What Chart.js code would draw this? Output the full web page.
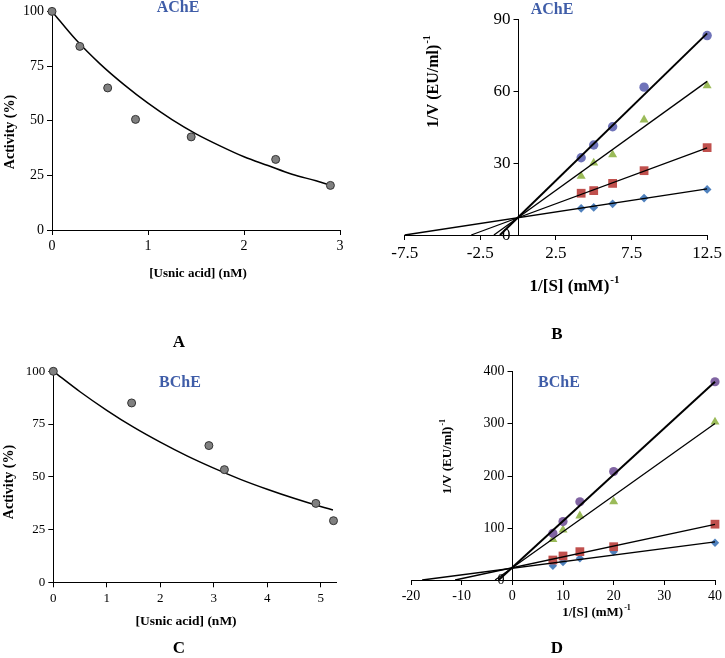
<!DOCTYPE html>
<html>
<head>
<meta charset="utf-8">
<script src="https://cdn.jsdelivr.net/npm/chart.js@4.4.1/dist/chart.umd.min.js"></script>
<style>
  body { margin: 0; background: #fff; width: 725px; height: 658px; position: relative; overflow: hidden; }
  canvas { position: absolute; }
</style>
</head>
<body>
<canvas id="chartA" width="362" height="352" style="left:0;top:0;width:362px;height:352px"></canvas>
<canvas id="chartB" width="363" height="352" style="left:362px;top:0;width:363px;height:352px"></canvas>
<canvas id="chartC" width="362" height="306" style="left:0;top:352px;width:362px;height:306px"></canvas>
<canvas id="chartD" width="363" height="306" style="left:362px;top:352px;width:363px;height:306px"></canvas>
<script>
// ---- panel A : AChE activity vs usnic acid
const concA = [0, 0.29, 0.58, 0.87, 1.45, 2.33, 2.9];
const activityA = [100, 84, 65, 50.6, 42.6, 32.3, 20.4];
const fitConcA = [0, 0.25, 0.5, 0.75, 1, 1.25, 1.5, 1.75, 2, 2.25, 2.5, 2.75, 2.9];
const fitActivityA = [100, 87, 76, 66.5, 58, 50.5, 44, 38.5, 33.5, 29.5, 25.5, 22.5, 20.5];
const xTicksA = [0, 1, 2, 3];
const yTicksA = [0, 25, 50, 75, 100];

// ---- panel B : AChE Lineweaver-Burk
const invS_B = [4.17, 5, 6.25, 8.33, 12.5];
const invV_B0 = [11.1, 11.5, 13.0, 15.4, 19.0];   // diamonds
const invV_B1 = [17.4, 18.5, 21.5, 26.8, 36.4];   // squares
const invV_B2 = [24.5, 30, 33.5, 48, 62.2];       // triangles
const invV_B3 = [32.2, 37.5, 45.1, 61.6, 83.1];   // circles
const lineX_B0 = [-7.5, 12.5], lineY_B0 = [0, 19.2];
const lineX_B1 = [-3.1, 12.5], lineY_B1 = [0, 36.3];
const lineX_B2 = [-1.6, 12.5], lineY_B2 = [0, 64];
const lineX_B3 = [-1.2, 12.5], lineY_B3 = [0, 84];
const xTicksB = [-7.5, -2.5, 2.5, 7.5, 12.5];
const yTicksB = [0, 30, 60, 90];

// ---- panel C : BChE activity vs usnic acid
const concC = [0, 1.465, 2.91, 3.2, 4.91, 5.24];
const activityC = [100, 85, 64.8, 53.4, 37.4, 29.2];
const fitConcC = [0, 0.5, 1, 1.5, 2, 2.5, 3, 3.5, 4, 4.5, 5, 5.23];
const fitActivityC = [100, 90.3, 81.5, 73.5, 66.4, 59.9, 54.1, 48.8, 44.1, 39.8, 35.9, 34.3];
const xTicksC = [0, 1, 2, 3, 4, 5];
const yTicksC = [0, 25, 50, 75, 100];

// ---- panel D : BChE Lineweaver-Burk
const invS_D = [8, 10, 13.33, 20, 40];
const invV_D0 = [27.4, 34.5, 41.5, 54.3, 71.5];
const invV_D1 = [38.3, 46, 54.3, 63.8, 107];
const invV_D2 = [78, 96, 123, 150, 303];
const invV_D3 = [89.5, 112, 150, 208, 380];
const lineX_D0 = [-17.8, 40], lineY_D0 = [0, 73];
const lineX_D1 = [-11.3, 40], lineY_D1 = [0, 106.5];
const lineX_D2 = [-3.4, 40], lineY_D2 = [0, 300];
const lineX_D3 = [-2.7, 40], lineY_D3 = [0, 380];
const xTicksD = [-20, -10, 0, 10, 20, 30, 40];
const yTicksD = [0, 100, 200, 300, 400];

const serif = "'Liberation Serif', 'Times New Roman', serif";
const blue = '#3F5DA8';

function pts(xs, ys) { return xs.map((x, i) => ({ x: x, y: ys[i] })); }

function markers(xs, ys, style, color, r) {
  return { data: pts(xs, ys), pointStyle: style, pointRadius: r, pointHoverRadius: r,
    backgroundColor: color, borderColor: color, borderWidth: 0, showLine: false, clip: false, order: 2 };
}
function greyDots(xs, ys) {
  return { data: pts(xs, ys), pointStyle: 'circle', pointRadius: 4, pointHoverRadius: 4,
    backgroundColor: '#808080', borderColor: '#333', borderWidth: 1, showLine: false, clip: false, order: 0 };
}
function line(xs, ys, w, smooth) {
  return { data: pts(xs, ys), showLine: true, pointRadius: 0, borderColor: '#000', borderWidth: w,
    cubicInterpolationMode: smooth ? 'monotone' : 'default', tension: 0, fill: false, clip: false, order: 1 };
}

function axis(min, max, ticks, size, extra) {
  return Object.assign({
    type: 'linear', min: min, max: max,
    afterBuildTicks: s => { s.ticks = ticks.map(v => ({ value: v })); },
    border: { color: '#000', width: 1 },
    grid: { drawOnChartArea: false, color: '#000', tickLength: 5 },
    ticks: { color: '#000', font: { family: serif, size: size }, padding: 3,
      maxRotation: 0, autoSkip: false, callback: v => String(v) }
  }, extra);
}

// y axis that crosses x = 0: the tick marks and labels go on its left side
function crossingAxis(size) {
  return {
    id: 'crossingAxis',
    afterDraw(chart) {
      const ctx = chart.ctx, sx = chart.scales.x, sy = chart.scales.y;
      const x0 = Math.round(sx.getPixelForValue(0)) + 0.5;
      ctx.save();
      ctx.strokeStyle = '#000';
      ctx.lineWidth = 1;
      ctx.fillStyle = '#000';
      ctx.font = size + 'px ' + serif;
      ctx.textAlign = 'right';
      ctx.textBaseline = 'middle';
      sy.ticks.forEach(t => {
        const y = Math.round(sy.getPixelForValue(t.value)) + 0.5;
        ctx.beginPath();
        ctx.moveTo(x0 - 5, y);
        ctx.lineTo(x0, y);
        ctx.stroke();
        ctx.fillText(String(t.value), x0 - 8, y);
      });
      ctx.restore();
    }
  };
}

// extra labels (titles, axis names, panel letters) drawn on the canvas
function textPlugin(items) {
  return {
    id: 'panelText',
    afterDraw(chart) {
      const ctx = chart.ctx;
      items.forEach(it => {
        const f = s => 'bold ' + s + 'px ' + serif;
        const supSize = Math.round(it.size * 0.62);
        ctx.save();
        ctx.translate(it.x, it.y);
        if (it.rot) ctx.rotate(-Math.PI / 2);
        ctx.fillStyle = it.color || '#000';
        ctx.textBaseline = 'middle';
        ctx.textAlign = 'left';
        ctx.font = f(it.size);
        const w = ctx.measureText(it.t).width;
        let sw = 0;
        if (it.sup) { ctx.font = f(supSize); sw = ctx.measureText(it.sup).width; }
        const x0 = -(w + sw) / 2;
        ctx.font = f(it.size);
        ctx.fillText(it.t, x0, 0);
        if (it.sup) {
          ctx.font = f(supSize);
          ctx.fillText(it.sup, x0 + w + 1, -it.size * 0.38);
        }
        ctx.restore();
      });
    }
  };
}

function makeChart(id, datasets, p) {
  const plugins = [textPlugin(p.texts)];
  if (p.crossSize) plugins.push(crossingAxis(p.crossSize));
  return new Chart(document.getElementById(id), {
    type: 'scatter',
    data: { datasets: datasets },
    options: {
      responsive: false, animation: false, devicePixelRatio: 1,
      layout: { padding: p.padding },
      plugins: { legend: { display: false }, tooltip: { enabled: false } },
      scales: { x: p.x, y: p.y }
    },
    plugins: plugins
  });
}

const hiddenTicks = { display: false };
const noGridTicks = { drawOnChartArea: false, drawTicks: false, color: '#000' };

makeChart('chartA', [
  line(fitConcA, fitActivityA, 1.5, true),
  greyDots(concA, activityA)
], {
  padding: { left: 0, right: 22, top: 11, bottom: 92 },
  x: axis(0, 3, xTicksA, 14, { afterFit: s => { s.height = 30; } }),
  y: axis(0, 100, yTicksA, 14, { afterFit: s => { s.width = 52; } }),
  texts: [
    { t: 'AChE', x: 178, y: 8, size: 16, color: blue },
    { t: 'Activity (%)', x: 10, y: 132, size: 14, rot: true },
    { t: '[Usnic acid] (nM)', x: 198, y: 274, size: 13 },
    { t: 'A', x: 179, y: 343, size: 17 }
  ]
});

makeChart('chartB', [
  line(lineX_B3, lineY_B3, 2),
  line(lineX_B2, lineY_B2, 1.3),
  line(lineX_B1, lineY_B1, 1.3),
  line(lineX_B0, lineY_B0, 1.3),
  markers(invS_B, invV_B3, 'circle', '#6F73B9', 4.7),
  markers(invS_B, invV_B2, 'triangle', '#9BBB59', 5.2),
  markers(invS_B, invV_B1, 'rect', '#C0504D', 6.2),
  markers(invS_B, invV_B0, 'rectRot', '#4F81BD', 4.4)
], {
  padding: { left: 42.7, right: 15.3, top: 19, bottom: 87 },
  x: axis(-7.5, 12.5, xTicksB, 17, { afterFit: s => { s.height = 30; } }),
  y: axis(0, 90, yTicksB, 17, { axis: 'y', position: { x: 0 }, ticks: hiddenTicks, grid: noGridTicks }),
  crossSize: 17,
  texts: [
    { t: 'AChE', x: 190, y: 10, size: 16, color: blue },
    { t: '1/V (EU/ml)', sup: '-1', x: 72, y: 82, size: 16, rot: true },
    { t: '1/[S] (mM)', sup: '-1', x: 212, y: 287, size: 17 },
    { t: 'B', x: 195, y: 335, size: 17 }
  ]
});

makeChart('chartC', [
  line(fitConcC, fitActivityC, 1.5, true),
  greyDots(concC, activityC)
], {
  padding: { left: 0, right: 25.3, top: 19.3, bottom: 45.7 },
  x: axis(0, 5.3, xTicksC, 13, { afterFit: s => { s.height = 30; } }),
  y: axis(0, 100, yTicksC, 13, { afterFit: s => { s.width = 53.3; } }),
  texts: [
    { t: 'BChE', x: 180, y: 31, size: 16, color: blue },
    { t: 'Activity (%)', x: 9, y: 130, size: 14, rot: true },
    { t: '[Usnic acid] (nM)', x: 186, y: 270, size: 13.5 },
    { t: 'C', x: 179, y: 297, size: 17 }
  ]
});

makeChart('chartD', [
  line(lineX_D3, lineY_D3, 2),
  line(lineX_D2, lineY_D2, 1.3),
  line(lineX_D1, lineY_D1, 1.3),
  line(lineX_D0, lineY_D0, 1.3),
  markers(invS_D, invV_D3, 'circle', '#8064A2', 4.6),
  markers(invS_D, invV_D2, 'triangle', '#9BBB59', 5.2),
  markers(invS_D, invV_D1, 'rect', '#C0504D', 6.2),
  markers(invS_D, invV_D0, 'rectRot', '#4F81BD', 4.2)
], {
  padding: { left: 49, right: 7, top: 19.3, bottom: 48 },
  x: axis(-20, 40, xTicksD, 14, { afterFit: s => { s.height = 30; } }),
  y: axis(0, 400, yTicksD, 14, { axis: 'y', position: { x: 0 }, ticks: hiddenTicks, grid: noGridTicks }),
  crossSize: 14,
  texts: [
    { t: 'BChE', x: 197, y: 31, size: 16, color: blue },
    { t: '1/V (EU/ml)', sup: '-1', x: 86, y: 105, size: 13, rot: true },
    { t: '1/[S] (mM)', sup: '-1', x: 234, y: 261, size: 13 },
    { t: 'D', x: 195, y: 297, size: 17 }
  ]
});
</script>
</body>
</html>
